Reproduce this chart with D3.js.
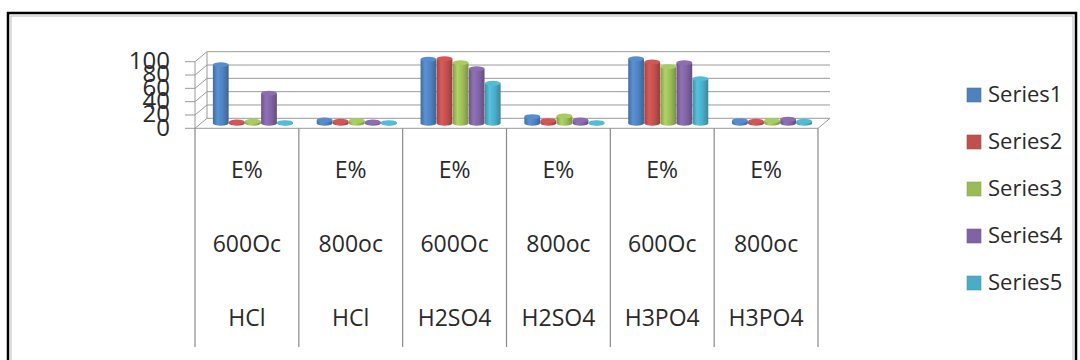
<!DOCTYPE html>
<html>
<head>
<meta charset="utf-8">
<script src="https://cdn.jsdelivr.net/npm/d3@7"></script>
<style>
  html, body { margin: 0; padding: 0; background: #fff; }
  svg { display: block; font-family: "Open Sans", sans-serif; }
</style>
</head>
<body>
<div id="chart"></div>
<script>
// data
const measure = ["E%", "E%", "E%", "E%", "E%", "E%"];
const temps = ["600Oc", "800oc", "600Oc", "800oc", "600Oc", "800oc"];
const acids = ["HCl", "HCl", "H2SO4", "H2SO4", "H3PO4", "H3PO4"];
const seriesNames = ["Series1", "Series2", "Series3", "Series4", "Series5"];
const series1 = [88, 5, 96, 10, 97, 4];
const series2 = [2, 3, 97, 4, 92, 3];
const series3 = [3, 4, 91, 11, 85, 4];
const series4 = [45, 2, 82, 5, 91, 6];
const series5 = [1, 1, 60, 1, 67, 3];
const yTicks = [0, 20, 40, 60, 80, 100];
const colors = ["#4F81BD", "#C0504D", "#9BBB59", "#8064A2", "#4BACC6"];

const values = [series1, series2, series3, series4, series5];
const W = 1080, H = 360;
const depth = { dx: 12, dy: -10 };   // front -> back offset
const mid = { dx: depth.dx / 2, dy: depth.dy / 2 };
const gridCol = "#9a9a9a", textCol = "#2a2a2a";

const svg = d3.select("#chart").append("svg")
  .attr("width", W).attr("height", H);

// chart area border
svg.append("rect").attr("x", 8).attr("y", 13).attr("width", 1068).attr("height", 400)
  .attr("fill", "#fff").attr("stroke", "#000").attr("stroke-width", 2.5);
svg.append("rect").attr("x", 11).attr("y", 16).attr("width", 1062).attr("height", 400)
  .attr("fill", "none").attr("stroke", "#bbb").attr("stroke-width", 1);

const idx = d3.range(acids.length);
const x = d3.scaleBand().domain(idx).range([195, 818]).paddingInner(0).paddingOuter(0);
const y = d3.scaleLinear().domain([0, 100]).range([128.3, 61.7]);
const xs = d3.scaleBand().domain(d3.range(seriesNames.length))
  .range([0, x.bandwidth()]).paddingOuter(0.74).paddingInner(0.02);

const x0 = x.range()[0], x1 = x.range()[1];

// gradients for cylinders
const defs = svg.append("defs");
colors.forEach((c, i) => {
  const g = defs.append("linearGradient").attr("id", "cyl" + i)
    .attr("x1", 0).attr("x2", 1).attr("y1", 0).attr("y2", 0);
  const base = d3.color(c);
  [[0, base.darker(0.5)], [0.3, base.brighter(0.35)], [0.65, base], [1, base.darker(0.7)]]
    .forEach(([o, col]) => g.append("stop").attr("offset", o).attr("stop-color", col));
});

// back wall gridlines
const grid = svg.append("g").attr("stroke", gridCol).attr("stroke-width", 1).attr("fill", "none");
yTicks.forEach(t => {
  const yf = y(t), yb = y(t) + depth.dy;
  grid.append("path").attr("d",
    `M${x0},${yf}L${x0 + depth.dx},${yb}L${x1 + depth.dx},${yb}`);
});
// back wall / floor edges
grid.append("path").attr("d",
  `M${x0 + depth.dx},${y(100) + depth.dy}L${x0 + depth.dx},${y(0) + depth.dy}`);
grid.append("path").attr("d",
  `M${x0},${y(0)}L${x1},${y(0)}L${x1 + depth.dx},${y(0) + depth.dy}`);
// front value axis
grid.append("path").attr("d", `M${x0},${y(100)}L${x0},${y(0)}`);
yTicks.forEach(t => {
  grid.append("path").attr("d", `M${x0 - 10},${y(t)}L${x0},${y(t)}`);
});

// value labels (they crowd each other, as in the original)
svg.append("g").selectAll("text").data(yTicks).join("text")
  .attr("x", 170).attr("y", d => y(d) + 1)
  .attr("text-anchor", "end").attr("dominant-baseline", "middle")
  .attr("font-size", 24).attr("fill", textCol)
  .text(d => d);

// bars (cylinders)
const ry = 2.5;
const bars = svg.append("g");
idx.forEach(ci => {
  seriesNames.forEach((s, si) => {
    const v = values[si][ci];
    const bx = x(ci) + xs(si) + mid.dx;
    const bw = xs.bandwidth();
    const cx = bx + bw / 2;
    const yb = y(0) + mid.dy, yt = y(v) + mid.dy;
    const fill = `url(#cyl${si})`;
    bars.append("ellipse").attr("cx", cx).attr("cy", yb).attr("rx", bw / 2).attr("ry", ry)
      .attr("fill", fill);
    bars.append("rect").attr("x", bx).attr("y", yt).attr("width", bw).attr("height", Math.max(0, yb - yt))
      .attr("fill", fill);
    bars.append("ellipse").attr("cx", cx).attr("cy", yt).attr("rx", bw / 2).attr("ry", ry)
      .attr("fill", d3.color(colors[si]).brighter(0.25));
  });
});

// category axis: separators and multi-level labels
const cat = svg.append("g");
d3.range(acids.length + 1).forEach(i => {
  const xx = i < acids.length ? x(i) : x1;
  cat.append("line").attr("x1", xx).attr("x2", xx).attr("y1", y(0)).attr("y2", 347)
    .attr("stroke", "#8a8a8a").attr("stroke-width", 1.2);
});
const rows = [[measure, 172], [temps, 246], [acids, 320]];
rows.forEach(([labels, yy]) => {
  cat.append("g").selectAll("text").data(idx).join("text")
    .attr("x", d => x(d) + x.bandwidth() / 2).attr("y", yy)
    .attr("text-anchor", "middle").attr("dominant-baseline", "middle")
    .attr("font-size", 23).attr("fill", textCol)
    .text(d => labels[d]);
});

// legend
const legY = d3.scalePoint().domain(seriesNames).range([95, 283]);
const leg = svg.append("g");
seriesNames.forEach((s, i) => {
  leg.append("rect").attr("x", 967).attr("y", legY(s) - 7).attr("width", 14).attr("height", 14)
    .attr("fill", colors[i]).attr("stroke", d3.color(colors[i]).darker(0.3)).attr("stroke-width", 0.6);
  leg.append("text").attr("x", 988).attr("y", legY(s) + 1)
    .attr("dominant-baseline", "middle").attr("font-size", 22).attr("fill", textCol)
    .text(s);
});
</script>
</body>
</html>
